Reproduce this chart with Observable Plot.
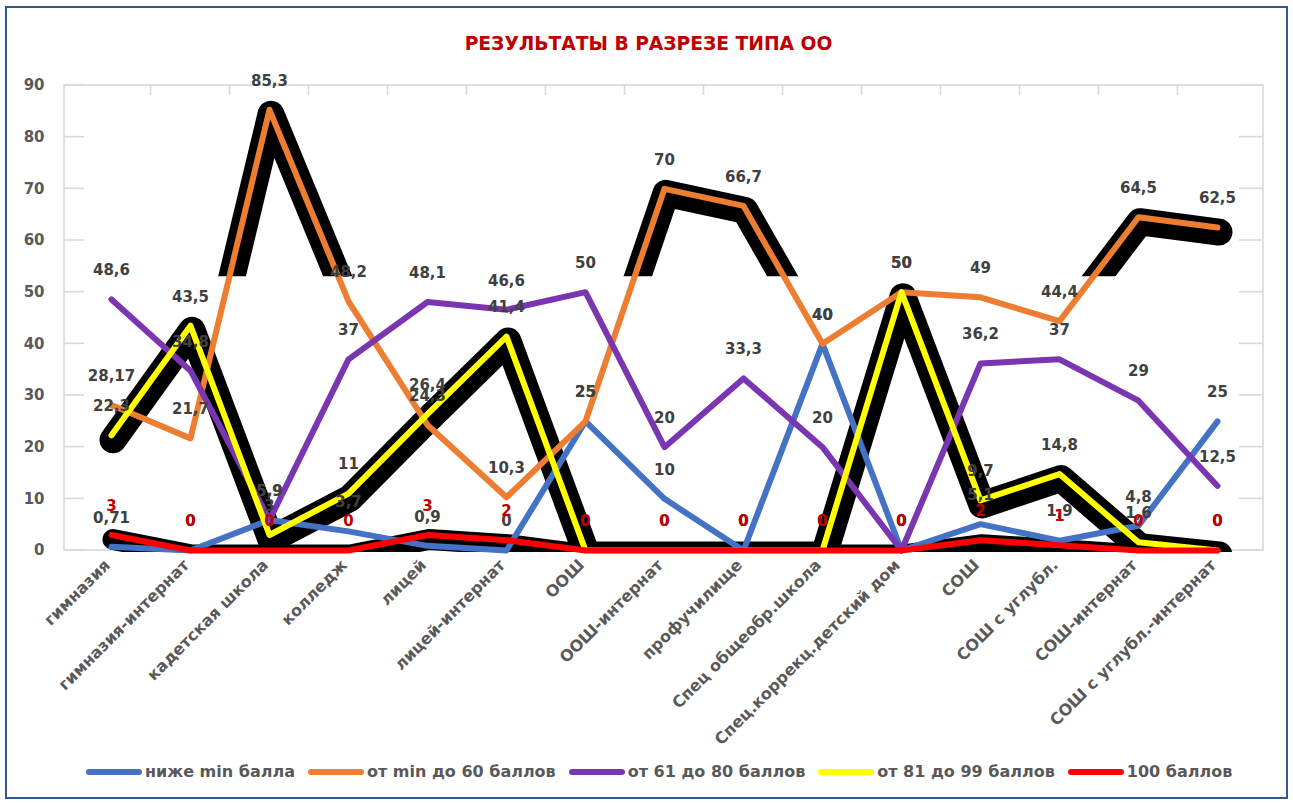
<!DOCTYPE html>
<html><head><meta charset="utf-8">
<script src="https://cdn.jsdelivr.net/npm/d3@7"></script>
<script src="https://cdn.jsdelivr.net/npm/@observablehq/plot@0.6"></script>
<style>
body{margin:0;background:#fff;}
#wrap{position:relative;width:1293px;height:803px;overflow:hidden;font-family:"DejaVu Sans",sans-serif;background:#fff;}
#border{position:absolute;left:5px;top:6px;width:1283px;height:793px;border:2.5px solid #2E5C8A;box-sizing:border-box;}
#title{position:absolute;left:2px;width:1293px;top:33px;text-align:center;color:#C00000;font-weight:bold;font-size:18.7px;}
#chart{position:absolute;left:0;top:60px;}
#legend{position:absolute;top:762px;left:86px;display:flex;align-items:center;font-weight:bold;font-size:16px;color:#595959;white-space:nowrap;}
.item{display:flex;align-items:center;margin-right:13px;}
.sw{width:56px;height:6px;border-radius:3px;margin-right:3px;}
</style></head>
<body><div id="wrap"><div id="border"></div><div id="title">РЕЗУЛЬТАТЫ В РАЗРЕЗЕ ТИПА ОО</div><div id="chart"></div><div id="legend"></div></div>
<script>
const categories = ["гимназия", "гимназия-интернат", "кадетская школа", "колледж", "лицей", "лицей-интернат", "ООШ", "ООШ-интернат", "профучилище", "Спец общеобр.школа", "Спец.коррекц.детский дом", "СОШ", "СОШ с углубл.", "СОШ-интернат", "СОШ с углубл.-интернат"];
const belowMin   = [0.71, 0, 5.9, 3.7, 0.9, 0, 25, 10, 0, 40, 0, 5.1, 1.9, 4.8, 25];
const min60      = [28.17, 21.7, 85.3, 48.2, 24.3, 10.3, 25, 70, 66.7, 40, 50, 49, 44.4, 64.5, 62.5];
const from61to80 = [48.6, 34.8, 5.9, 37, 48.1, 46.6, 50, 20, 33.3, 20, 0, 36.2, 37, 29, 12.5];
const from81to99 = [22.3, 43.5, 3, 11, 26.4, 41.4, 0, 0, 0, 0, 50, 9.7, 14.8, 1.6, 0];
const score100   = [3, 0, 0, 0, 3, 2, 0, 0, 0, 0, 0, 2, 1, 0, 0];
const seriesNames = ["ниже min балла", "от min до 60 баллов", "от 61 до 80 баллов", "от 81 до 99 баллов", "100 баллов"];
const yTicks = [0, 10, 20, 30, 40, 50, 60, 70, 80, 90];

const seriesColors = ["#4472C4", "#ED7D31", "#7A35B0", "#FFFF00", "#FF0000"];
const seriesValues = [belowMin, min60, from61to80, from81to99, score100];
const rows = seriesNames.flatMap((s, si) => categories.map((c, i) => ({series: s, si, category: c, value: seriesValues[si][i]})));
const fmt = v => String(v).replace(".", ",");

const orangeShadowAbove = 53;
function shadows(index, scales, values, dims) {
  const g = d3.create("svg:g");
  const y1 = dims.height - dims.marginBottom;
  const defs = g.append("defs");
  defs.append("clipPath").attr("id", "cpAll").append("rect").attr("x", 0).attr("y", 0).attr("width", dims.width).attr("height", y1 + 2);
  defs.append("clipPath").attr("id", "cpOr").append("rect").attr("x", 0).attr("y", 0).attr("width", dims.width).attr("height", scales.y(orangeShadowAbove));
  const specs = [
    {vals: min60, w: 27, clip: "cpOr"},
    {vals: from81to99, w: 27, clip: "cpAll"},
    {vals: score100, w: 21, clip: "cpAll"}
  ];
  for (const s of specs) {
    const pts = categories.map((c, i) => [scales.x(c) + 2, scales.y(s.vals[i]) + 5]);
    g.append("path").attr("d", d3.line()(pts)).attr("fill", "none").attr("stroke", "#000")
      .attr("stroke-width", s.w).attr("stroke-linejoin", "round").attr("stroke-linecap", "round")
      .attr("clip-path", `url(#${s.clip})`);
  }
  return g.node();
}
function frame(index, scales, values, dims) {
  const g = d3.create("svg:g").attr("stroke", "#D9D9D9").attr("stroke-width", 1.6).attr("fill", "none");
  const x0 = dims.marginLeft, x1 = dims.width - dims.marginRight, y0 = dims.marginTop, y1 = dims.height - dims.marginBottom;
  g.append("rect").attr("x", x0).attr("y", y0).attr("width", x1 - x0).attr("height", y1 - y0);
  for (const v of yTicks) {
    const y = scales.y(v);
    g.append("line").attr("x1", x0).attr("x2", x0 + 20).attr("y1", y).attr("y2", y);
    g.append("line").attr("x1", x1 - 24).attr("x2", x1).attr("y1", y).attr("y2", y);
  }
  for (let i = 1; i < categories.length; i++) {
    const x = (scales.x(categories[i - 1]) + scales.x(categories[i])) / 2;
    g.append("line").attr("x1", x).attr("x2", x).attr("y1", y0).attr("y2", y0 + 10);
  }
  return g.node();
}

const lineMarks = seriesNames.map((s, si) => Plot.line(rows.filter(d => d.si === si), {
  x: "category", y: "value", stroke: seriesColors[si], strokeWidth: 6,
  strokeLinecap: "round", strokeLinejoin: "round"
}));

const plot = Plot.plot({
  width: 1293, height: 700,
  marginLeft: 64, marginRight: 30, marginTop: 25, marginBottom: 210,
  style: {fontFamily: "DejaVu Sans, sans-serif", background: "transparent"},
  x: {type: "point", domain: categories, padding: 0.5, label: null},
  y: {domain: [0, 90], label: null},
  marks: [
    frame,
    Plot.axisY({ticks: yTicks, tickSize: 0, tickPadding: 20, fontSize: 15, fontWeight: "bold", fill: "#595959", label: null}),
    Plot.axisX({tickSize: 0, tickRotate: -45, tickPadding: 12, dx: -4, fontSize: 16, fontWeight: "bold", fill: "#595959", label: null}),
    shadows,
    ...lineMarks,
    Plot.text(rows.filter(d => d.si < 4), {x: "category", y: "value", text: d => fmt(d.value), dy: -29, fill: "#404040", fontSize: 15, fontWeight: "bold"}),
    Plot.text(rows.filter(d => d.si === 4), {x: "category", y: "value", text: d => fmt(d.value), dy: -29, fill: "#C00000", fontSize: 15, fontWeight: "bold"})
  ]
});
document.getElementById("chart").appendChild(plot);

const legend = document.getElementById("legend");
seriesNames.forEach((s, i) => {
  const it = document.createElement("div"); it.className = "item";
  const sw = document.createElement("div"); sw.className = "sw"; sw.style.background = seriesColors[i];
  const tx = document.createElement("span"); tx.textContent = s;
  it.appendChild(sw); it.appendChild(tx); legend.appendChild(it);
});
</script></body></html>
